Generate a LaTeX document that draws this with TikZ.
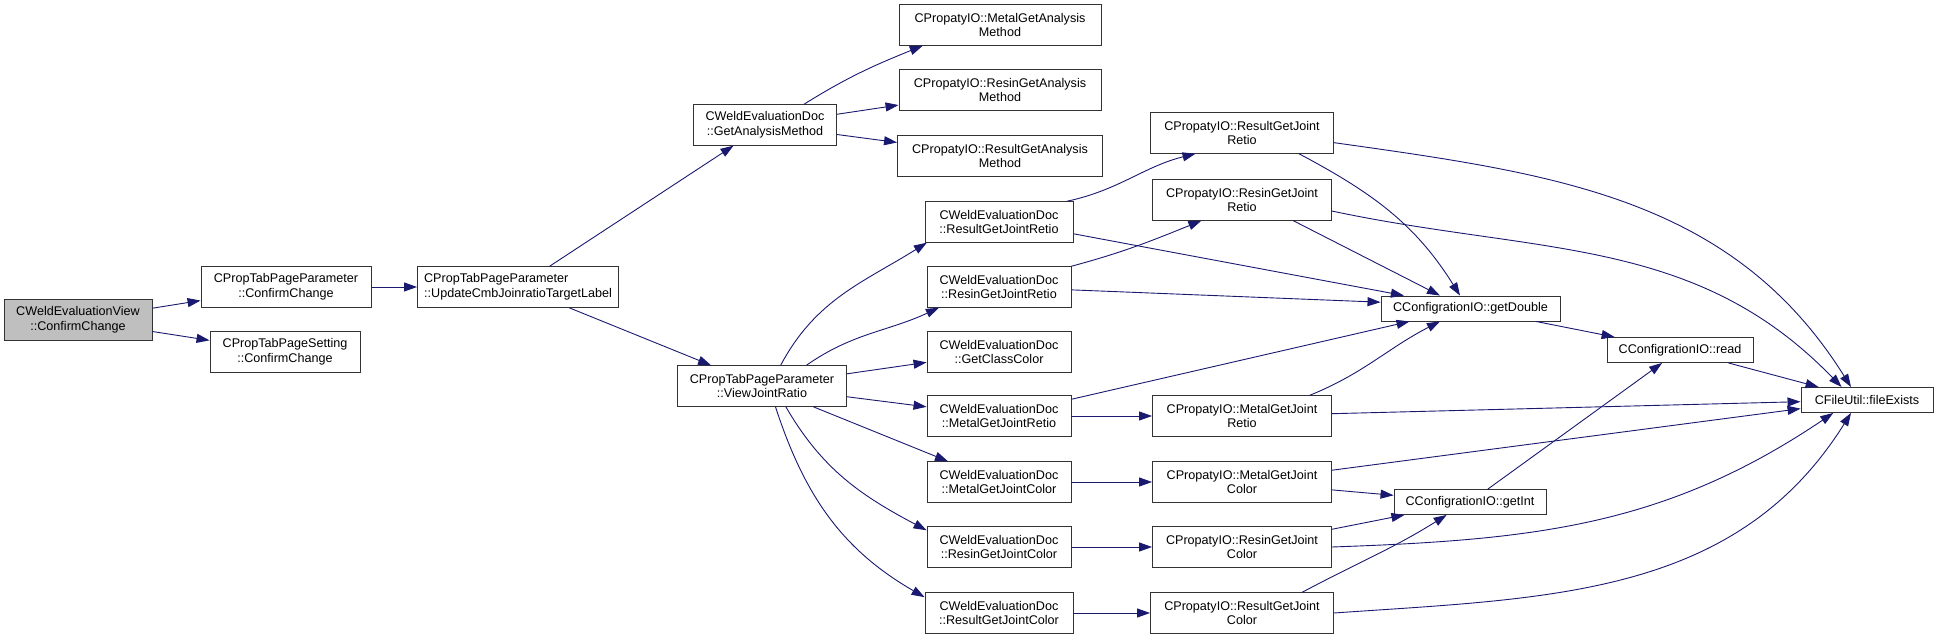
\documentclass[tikz,border=0pt]{standalone}
\usepackage{fontspec}
\setmainfont{Liberation Sans}
\usetikzlibrary{arrows.meta}
\definecolor{edgec}{HTML}{191970}
\begin{document}
\begin{tikzpicture}[x=1pt,y=1pt,
  box/.style={draw=black!80, line width=0.9pt, fill=white, inner sep=0pt,
    minimum height=40.5pt, align=center, font=\fontsize{12.6}{14.7}\selectfont},
  sbox/.style={box, minimum height=25pt},
  e/.style={draw=edgec, line width=0.9pt, -{Triangle[length=13pt,width=9pt]}}
]
\useasboundingbox (0,0) rectangle (1939,640);

\node[box, fill=black!25, minimum width=148pt] (v) at (78,320) {CWeldEvaluationView\\::ConfirmChange};
\node[box, minimum width=170pt] (ppcc) at (286,353) {CPropTabPageParameter\\::ConfirmChange};
\node[box, minimum width=150pt] (ppsc) at (285,288) {CPropTabPageSetting\\::ConfirmChange};
\node[box, minimum width=201pt, align=left] (upd) at (518,353) {CPropTabPageParameter\\::UpdateCmbJoinratioTargetLabel};
\node[box, minimum width=143pt] (gam) at (765,515) {CWeldEvaluationDoc\\::GetAnalysisMethod};
\node[box, minimum width=202pt] (mga) at (1000,615) {CPropatyIO::MetalGetAnalysis\\Method};
\node[box, minimum width=202pt] (rga) at (1000,550) {CPropatyIO::ResinGetAnalysis\\Method};
\node[box, minimum width=205pt] (sga) at (1000,484) {CPropatyIO::ResultGetAnalysis\\Method};
\node[box, minimum width=169pt] (vjr) at (762,254) {CPropTabPageParameter\\::ViewJointRatio};

\node[box, minimum width=148pt] (dr1) at (999,418) {CWeldEvaluationDoc\\::ResultGetJointRetio};
\node[box, minimum width=144pt] (dr2) at (999,353) {CWeldEvaluationDoc\\::ResinGetJointRetio};
\node[box, minimum width=144pt] (dcc) at (999,288) {CWeldEvaluationDoc\\::GetClassColor};
\node[box, minimum width=144pt] (dr3) at (999,224) {CWeldEvaluationDoc\\::MetalGetJointRetio};
\node[box, minimum width=144pt] (dc1) at (999,158) {CWeldEvaluationDoc\\::MetalGetJointColor};
\node[box, minimum width=144pt] (dc2) at (999,93) {CWeldEvaluationDoc\\::ResinGetJointColor};
\node[box, minimum width=148pt] (dc3) at (999,27) {CWeldEvaluationDoc\\::ResultGetJointColor};

\node[box, minimum width=183pt] (ir1) at (1242,507) {CPropatyIO::ResultGetJoint\\Retio};
\node[box, minimum width=179pt] (ir2) at (1242,440) {CPropatyIO::ResinGetJoint\\Retio};
\node[box, minimum width=179pt] (ir3) at (1242,224) {CPropatyIO::MetalGetJoint\\Retio};
\node[box, minimum width=179pt] (ic1) at (1242,158) {CPropatyIO::MetalGetJoint\\Color};
\node[box, minimum width=179pt] (ic2) at (1242,93) {CPropatyIO::ResinGetJoint\\Color};
\node[box, minimum width=183pt] (ic3) at (1242,27) {CPropatyIO::ResultGetJoint\\Color};

\node[sbox, minimum width=179pt] (gd) at (1470.5,331.5) {CConfigrationIO::getDouble};
\node[sbox, minimum width=146pt] (rd) at (1680,290) {CConfigrationIO::read};
\node[sbox, minimum width=152pt] (gi) at (1470,138) {CConfigrationIO::getInt};
\node[sbox, minimum width=132pt] (fe) at (1867,240) {CFileUtil::fileExists};

\draw[e] (v) -- (ppcc);
\draw[e] (v) -- (ppsc);
\draw[e] (ppcc) -- (upd);
\draw[e] (upd) -- (gam);
\draw[e] (upd) -- (vjr);
\draw[e] (gam.28) to[out=32,in=202] (mga.195);
\draw[e] (gam) -- (rga);
\draw[e] (gam) -- (sga);
\draw[e] (vjr.48) to[out=62,in=212] (dr1.196);
\draw[e] (vjr.25) to[out=35,in=205] (dr2.199);
\draw[e] (vjr) -- (dcc);
\draw[e] (vjr) -- (dr3);
\draw[e] (vjr) -- (dc1);
\draw[e] (vjr.-41) to[out=-60,in=152] (dc2.167);
\draw[e] (vjr.-57) to[out=-72,in=150] (dc3.168);
\draw[e] (dr1.17) to[out=12,in=194] (ir1.204);
\draw[e] (dr1.-9) -- (gd.169);
\draw[e] (dr2.16) to[out=15,in=202] (ir2.207);
\draw[e] (dr2) -- (gd.176);
\draw[e] (dr3) -- (ir3);
\draw[e] (dr3.13) -- (gd.192);
\draw[e] (dc1) -- (ic1);
\draw[e] (dc2) -- (ic2);
\draw[e] (dc3) -- (ic3);
\draw[e] (ir1.-20) to[out=-28,in=122] (gd.129);
\draw[e] (ir1.-6) to[out=-8,in=122] (fe.141);
\draw[e] (ir2.-22) -- (gd.157);
\draw[e] (ir2.-7) to[out=-12,in=134] (fe.153);
\draw[e] (ir3.17) to[out=22,in=207] (gd.203);
\draw[e] (ir3) -- (fe);
\draw[e] (ic1) -- (fe);
\draw[e] (ic1) -- (gi);
\draw[e] (ic2) -- (gi);
\draw[e] (ic2.east) to[out=2,in=214] (fe.201);
\draw[e] (ic3.19) to[out=28,in=212] (gi.209);
\draw[e] (ic3.east) to[out=4,in=238] (fe.219);
\draw[e] (gd) -- (rd);
\draw[e] (gi) -- (rd);
\draw[e] (rd) -- (fe);
\end{tikzpicture}
\end{document}
